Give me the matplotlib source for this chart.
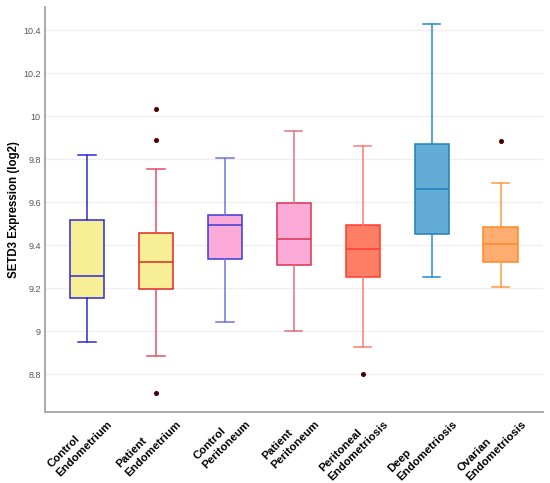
import matplotlib
matplotlib.use("Agg")
import matplotlib.pyplot as plt
from matplotlib.transforms import ScaledTranslation

categories = ["Control\nEndometrium", "Patient\nEndometrium", "Control\nPeritoneum",
              "Patient\nPeritoneum", "Peritoneal\nEndometriosis", "Deep\nEndometriosis",
              "Ovarian\nEndometriosis"]
whisker_low = [8.947, 8.882, 9.040, 8.999, 8.926, 9.253, 9.206]
q1 = [9.153, 9.197, 9.333, 9.307, 9.250, 9.451, 9.319]
median = [9.254, 9.319, 9.494, 9.429, 9.384, 9.662, 9.403]
q3 = [9.516, 9.454, 9.538, 9.594, 9.494, 9.871, 9.484]
whisker_high = [9.817, 9.755, 9.805, 9.932, 9.859, 10.428, 9.687]
outliers = [[], [10.034, 9.890, 8.712], [], [], [8.802], [], [9.884]]

face_colors = ["#f8ee96", "#f8ee96", "#fcaad8", "#fcaad8", "#ff7f66", "#62acd6", "#ffad70"]
edge_colors = ["#2b2bd9", "#e02828", "#3a3ad8", "#d8344e", "#ff3b2a", "#1e80c0", "#ff8a26"]
whisker_colors = ["#2b2bd9", "#e85060", "#7070ee", "#e07080", "#ff7a70", "#2a8ac8", "#ff9a40"]

y_ticks = [8.8, 9.0, 9.2, 9.4, 9.6, 9.8, 10.0, 10.2, 10.4]
y_tick_labels = ["8.8", "9", "9.2", "9.4", "9.6", "9.8", "10", "10.2", "10.4"]

plt.rcParams['font.family'] = ['Liberation Sans', 'DejaVu Sans']

fig = plt.figure(figsize=(5.5, 4.83), dpi=100)
ax = fig.add_axes([0.0818, 0.148, 0.905, 0.8375])

for ytk in y_ticks:
    ax.axhline(ytk, color="#efefef", lw=0.9, zorder=0)

for i in range(len(categories)):
    stats = [dict(whislo=whisker_low[i], q1=q1[i], med=median[i], q3=q3[i],
                  whishi=whisker_high[i], fliers=outliers[i])]
    ax.bxp(stats, positions=[i], widths=0.5, patch_artist=True, showfliers=True,
           boxprops=dict(facecolor=face_colors[i], edgecolor=edge_colors[i], linewidth=1.1),
           medianprops=dict(color=edge_colors[i], linewidth=1.1),
           whiskerprops=dict(color=whisker_colors[i], linewidth=1.1),
           capprops=dict(color=whisker_colors[i], linewidth=1.1),
           capwidths=0.25,
           flierprops=dict(marker='o', markersize=2.6, markerfacecolor="#4a0000",
                           markeredgecolor="#4a0000"),
           manage_ticks=False, zorder=3)

ax.set_xlim(-0.61, 6.61)
ax.set_ylim(8.626, 10.507)
ax.set_yticks(y_ticks)
ax.set_yticklabels(y_tick_labels, fontsize=6.5, color="#555555")
ax.tick_params(axis='y', length=0, pad=3)
ax.set_xticks(range(len(categories)))
ax.set_xticklabels(categories, rotation=45, ha='right', va='top', rotation_mode='anchor',
                   fontsize=8.2, fontweight='bold', multialignment='left', linespacing=1.35)
ax.tick_params(axis='x', length=0, pad=2)
offset = ScaledTranslation(8 / 72, 3 / 72, fig.dpi_scale_trans)
for lbl in ax.get_xticklabels():
    lbl.set_transform(lbl.get_transform() + offset)

ax.set_ylabel("SETD3 Expression (log2)", fontsize=8.3, fontweight='bold')
ax.yaxis.set_label_coords(-0.05, 0.5)

for s in ["top", "right"]:
    ax.spines[s].set_visible(False)
for s in ["left", "bottom"]:
    ax.spines[s].set_color("#aaaaaa")
    ax.spines[s].set_linewidth(1.4)

fig.savefig("out.png", dpi=100)
